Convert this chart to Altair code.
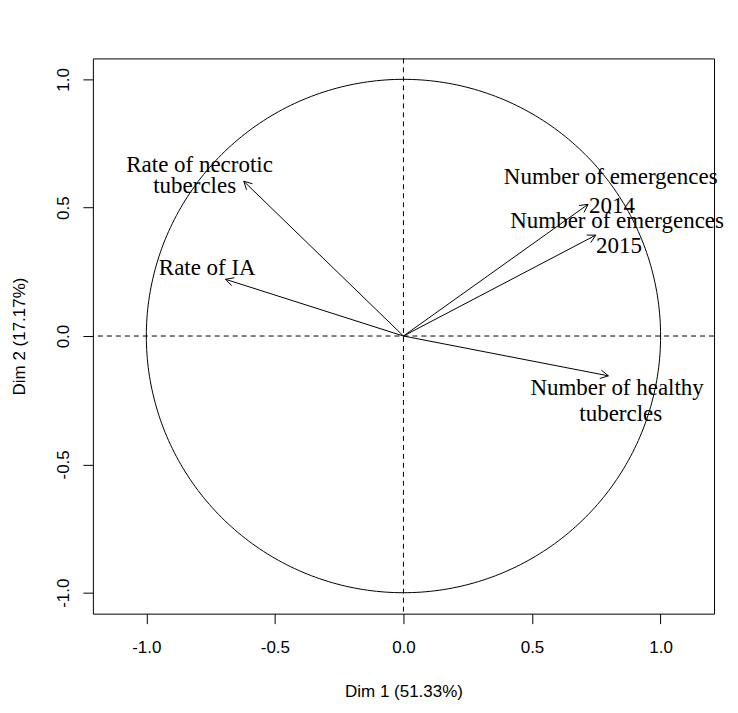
import altair as alt
import numpy as np
import pandas as pd

# Variables (correlation circle of PCA)
variables = ["Rate of necrotic tubercles", "Rate of IA", "Number of emergences 2014",
             "Number of emergences 2015", "Number of healthy tubercles"]
dim1 = [-0.621, -0.692, 0.718, 0.748, 0.797]
dim2 = [0.603, 0.221, 0.513, 0.393, -0.155]

# Label lines and their anchor positions (data units)
label_lines = ["Rate of necrotic", "tubercles", "Rate of IA",
               "Number of emergences", "2014", "Number of emergences", "2015",
               "Number of healthy", "tubercles"]
label_x = [-0.793, -0.812, -0.763, 0.806, 0.811, 0.831, 0.838, 0.831, 0.845]
label_y = [0.640, 0.558, 0.238, 0.594, 0.478, 0.420, 0.322, -0.229, -0.330]

tick_vals = [-1.0, -0.5, 0.0, 0.5, 1.0]
x_title = "Dim 1 (51.33%)"
y_title = "Dim 2 (17.17%)"

W, H = 622, 556
XD = 1.2078
YD = 1.0815

xs = alt.Scale(domain=[-XD, XD], nice=False, zero=False)
ys = alt.Scale(domain=[-YD, YD], nice=False, zero=False)

lab_expr = "replace(format(datum.value, '.1f'), '\u2212', '-')"
x_axis = alt.Axis(values=tick_vals, labelExpr=lab_expr, grid=False, domain=False,
                  tickSize=10, tickColor="black", tickWidth=1,
                  labelFont="Liberation Sans", labelFontSize=17, labelColor="black",
                  labelPadding=16, labelAngle=0,
                  title=x_title, titleFont="Liberation Sans", titleFontSize=17,
                  titleFontWeight="normal", titleColor="black",
                  titleX=W / 2, titleY=83, titleBaseline="alphabetic", titleAlign="center")
y_axis = alt.Axis(values=tick_vals, labelExpr=lab_expr, grid=False, domain=False,
                  tickSize=10, tickColor="black", tickWidth=1,
                  labelFont="Liberation Sans", labelFontSize=17, labelColor="black",
                  labelPadding=14, labelAngle=270, labelAlign="center",
                  labelBaseline="alphabetic",
                  title=y_title, titleFont="Liberation Sans", titleFontSize=17,
                  titleFontWeight="normal", titleColor="black",
                  titleAngle=270, titleX=-68, titleY=H / 2,
                  titleBaseline="alphabetic", titleAlign="center")

# unit circle
t = np.linspace(0, 2 * np.pi, 361)
circle = pd.DataFrame({"x": np.cos(t), "y": np.sin(t), "o": np.arange(361)})

arrows = pd.DataFrame({"var": variables, "x0": 0.0, "y0": 0.0, "x": dim1, "y": dim2})

# arrowhead barbs derived from the arrow tips
L = 0.035
ang = np.deg2rad(28)
barb_rows = []
for vx, vy in zip(dim1, dim2):
    r = np.hypot(vx, vy)
    ux, uy = -vx / r, -vy / r
    for s in (1, -1):
        c, sn = np.cos(s * ang), np.sin(s * ang)
        bx = ux * c - uy * sn
        by = ux * sn + uy * c
        barb_rows.append({"x": vx, "y": vy, "x2": vx + L * bx, "y2": vy + L * by})
barbs = pd.DataFrame(barb_rows)

labels = pd.DataFrame({"text": label_lines, "x": label_x, "y": label_y})

base_x = alt.X("x:Q", scale=xs, axis=x_axis)
base_y = alt.Y("y:Q", scale=ys, axis=y_axis)

circle_layer = alt.Chart(circle).mark_line(color="black", strokeWidth=1).encode(
    x=base_x, y=base_y, order="o:Q")

vline = alt.Chart(pd.DataFrame({"x": [0.0]})).mark_rule(
    color="black", strokeWidth=1, strokeDash=[5, 4]).encode(x=alt.X("x:Q", scale=xs))
hline = alt.Chart(pd.DataFrame({"y": [0.0]})).mark_rule(
    color="black", strokeWidth=1, strokeDash=[5, 4]).encode(y=alt.Y("y:Q", scale=ys))

arrow_layer = alt.Chart(arrows).mark_rule(color="black", strokeWidth=1).encode(
    x=alt.X("x0:Q", scale=xs), y=alt.Y("y0:Q", scale=ys), x2="x:Q", y2="y:Q")

barb_layer = alt.Chart(barbs).mark_rule(color="black", strokeWidth=1).encode(
    x=alt.X("x:Q", scale=xs), y=alt.Y("y:Q", scale=ys), x2="x2:Q", y2="y2:Q")

text_layer = alt.Chart(labels).mark_text(
    font="Liberation Serif", fontSize=23, color="black", align="center",
    baseline="alphabetic").encode(
    x=alt.X("x:Q", scale=xs), y=alt.Y("y:Q", scale=ys), text="text:N")

chart = alt.layer(circle_layer, vline, hline, arrow_layer, barb_layer, text_layer).properties(
    width=W, height=H,
    padding={"left": 85, "top": 50, "right": 16, "bottom": 90},
    autosize=alt.AutoSizeParams(type="none"),
    background="white",
).configure_view(stroke="black", strokeWidth=1)

chart.save("out.html", embed_options={"renderer": "svg", "actions": False})
